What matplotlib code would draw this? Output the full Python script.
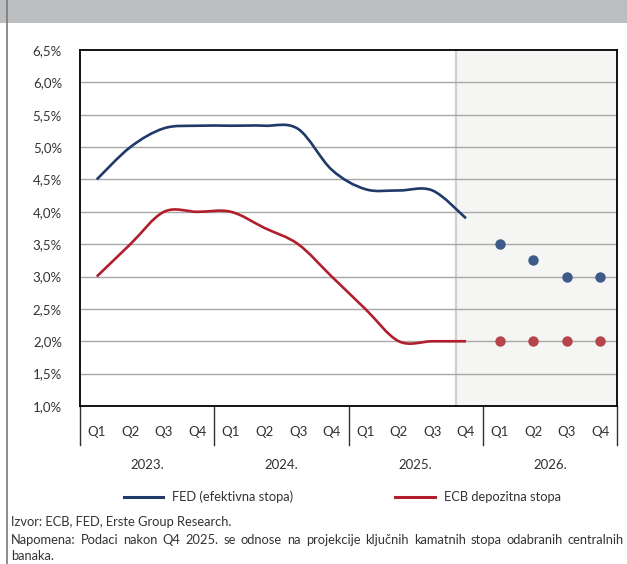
import numpy as np
import matplotlib
matplotlib.use("Agg")
import matplotlib.pyplot as plt
from matplotlib.path import Path
from matplotlib.patches import PathPatch, Rectangle
from matplotlib.lines import Line2D
import matplotlib.transforms as mtransforms

plt.rcParams['font.family'] = ['Lato', 'DejaVu Sans']

# data (quarterly, Q1 2023 .. Q4 2026)
quarters = ["Q1", "Q2", "Q3", "Q4"] * 4
years = ["2023.", "2024.", "2025.", "2026."]
fed = [4.50, 5.00, 5.29, 5.33, 5.33, 5.33, 5.28, 4.65, 4.35, 4.33, 4.33, 3.90]
ecb = [3.00, 3.50, 4.00, 4.00, 4.00, 3.75, 3.50, 3.00, 2.50, 2.00, 2.00, 2.00]
fed_proj = [3.50, 3.25, 3.00, 3.00]
ecb_proj = [2.00, 2.00, 2.00, 2.00]
yticks = [1.0, 1.5, 2.0, 2.5, 3.0, 3.5, 4.0, 4.5, 5.0, 5.5, 6.0, 6.5]

navy = "#1f3a68"
red = "#b01f2b"
navy_dot = "#3d5a88"
red_dot = "#b8444b"
txt = "#333333"
fs = 9.3


def smooth_path(xs, ys):
    # excel-like smoothed line (catmull-rom as cubic bezier)
    p = np.column_stack([xs, ys]).astype(float)
    n = len(p)
    verts = [p[0]]
    codes = [Path.MOVETO]
    for i in range(n - 1):
        p0 = p[i - 1] if i > 0 else p[i]
        p3 = p[i + 2] if i + 2 < n else p[i + 1]
        c1 = p[i] + (p[i + 1] - p0) / 6.0
        c2 = p[i + 1] - (p3 - p[i]) / 6.0
        verts += [c1, c2, p[i + 1]]
        codes += [Path.CURVE4] * 3
    return Path(verts, codes)


fig = plt.figure(figsize=(6.27, 5.64), dpi=100)
W, H = 627, 564

# top grey band and left frame line
fig.patches.append(Rectangle((0, 1 - 23 / H), 1, 23 / H, transform=fig.transFigure,
                             facecolor="#bcbdbf", edgecolor="none", zorder=0))
fig.lines.append(Line2D([6.5 / W, 6.5 / W], [0, 1], transform=fig.transFigure,
                        color="#7a7a7a", lw=1.2))

ax = fig.add_axes([80 / W, 1 - 406 / H, 537 / W, 356 / H])
ax.set_xlim(-0.5, 15.5)
ax.set_ylim(1.0, 6.5)

# projection area
shade_start = 10.69
ax.axvspan(shade_start, 15.5, facecolor="#f5f5f3", edgecolor="none", zorder=0)
ax.axvline(shade_start, color="#cfcfcf", lw=1.6, zorder=1)

for v in yticks[1:-1]:
    ax.axhline(v, color="#a8a8a8", lw=1.0, zorder=2)

x_hist = np.arange(len(fed))
x_proj = np.arange(len(fed), len(fed) + len(fed_proj))

ax.add_patch(PathPatch(smooth_path(x_hist, fed), fill=False, edgecolor=navy,
                       lw=1.9, capstyle="butt", zorder=4))
ax.add_patch(PathPatch(smooth_path(x_hist, ecb), fill=False, edgecolor=red,
                       lw=1.9, capstyle="butt", zorder=4))
ax.plot(x_proj, fed_proj, "o", color=navy_dot, ms=7.5, mec="none", zorder=5)
ax.plot(x_proj, ecb_proj, "o", color=red_dot, ms=7.5, mec="none", zorder=5)

ax.set_yticks(yticks)
ax.set_yticklabels([f"{v:.1f}%".replace(".", ",") for v in yticks],
                   fontsize=9.5, color=txt)
ax.tick_params(axis="y", length=0, pad=13)
ax.set_xticks([])
for s in ax.spines.values():
    s.set_color("black")
    s.set_linewidth(1.3)
    s.set_zorder(6)

# category axis below the plot
trans = mtransforms.blended_transform_factory(ax.transData, ax.transAxes)
for i, q in enumerate(quarters):
    ax.text(i, -0.073, q, transform=trans, ha="center", va="center",
            fontsize=9.5, color=txt)
for k, yr in enumerate(years):
    ax.text(4 * k + 1.5, -0.166, yr, transform=trans, ha="center", va="center",
            fontsize=9.5, color=txt)
for b in [-0.5, 3.5, 7.5, 11.5, 15.5]:
    ax.add_line(Line2D([b, b], [0, -0.11], transform=trans, color="#303030",
                       lw=1.0, clip_on=False))

# legend
fig.lines.append(Line2D([124 / W, 163 / W], [1 - 497 / H] * 2, transform=fig.transFigure,
                        color=navy, lw=2.2))
fig.text(172 / W, 1 - 497 / H, "FED (efektivna stopa)", ha="left", va="center",
         fontsize=fs, color=txt)
fig.lines.append(Line2D([395 / W, 435 / W], [1 - 497 / H] * 2, transform=fig.transFigure,
                        color=red, lw=2.2))
fig.text(444 / W, 1 - 497 / H, "ECB depozitna stopa", ha="left", va="center",
         fontsize=fs, color=txt)

# notes
fig.text(11 / W, 1 - 522 / H, "Izvor: ECB, FED, Erste Group Research.", ha="left",
         va="center", fontsize=fs, color=txt)

# justified note line
note = ("Napomena: Podaci nakon Q4 2025. se odnose na projekcije ključnih kamatnih "
        "stopa odabranih centralnih")
renderer = fig.canvas.get_renderer()
words = note.split()
pieces = [fig.text(0, 1 - 540 / H, w, ha="left", va="center", fontsize=fs, color=txt)
          for w in words]
widths = [t.get_window_extent(renderer).width for t in pieces]
gap = (624 - 11 - sum(widths)) / (len(words) - 1)
xpos = 11
for t, w in zip(pieces, widths):
    t.set_x(xpos / W)
    xpos += w + gap

fig.text(11 / W, 1 - 556 / H, "banaka.", ha="left", va="center", fontsize=fs, color=txt)

fig.savefig("out.png", dpi=100)
